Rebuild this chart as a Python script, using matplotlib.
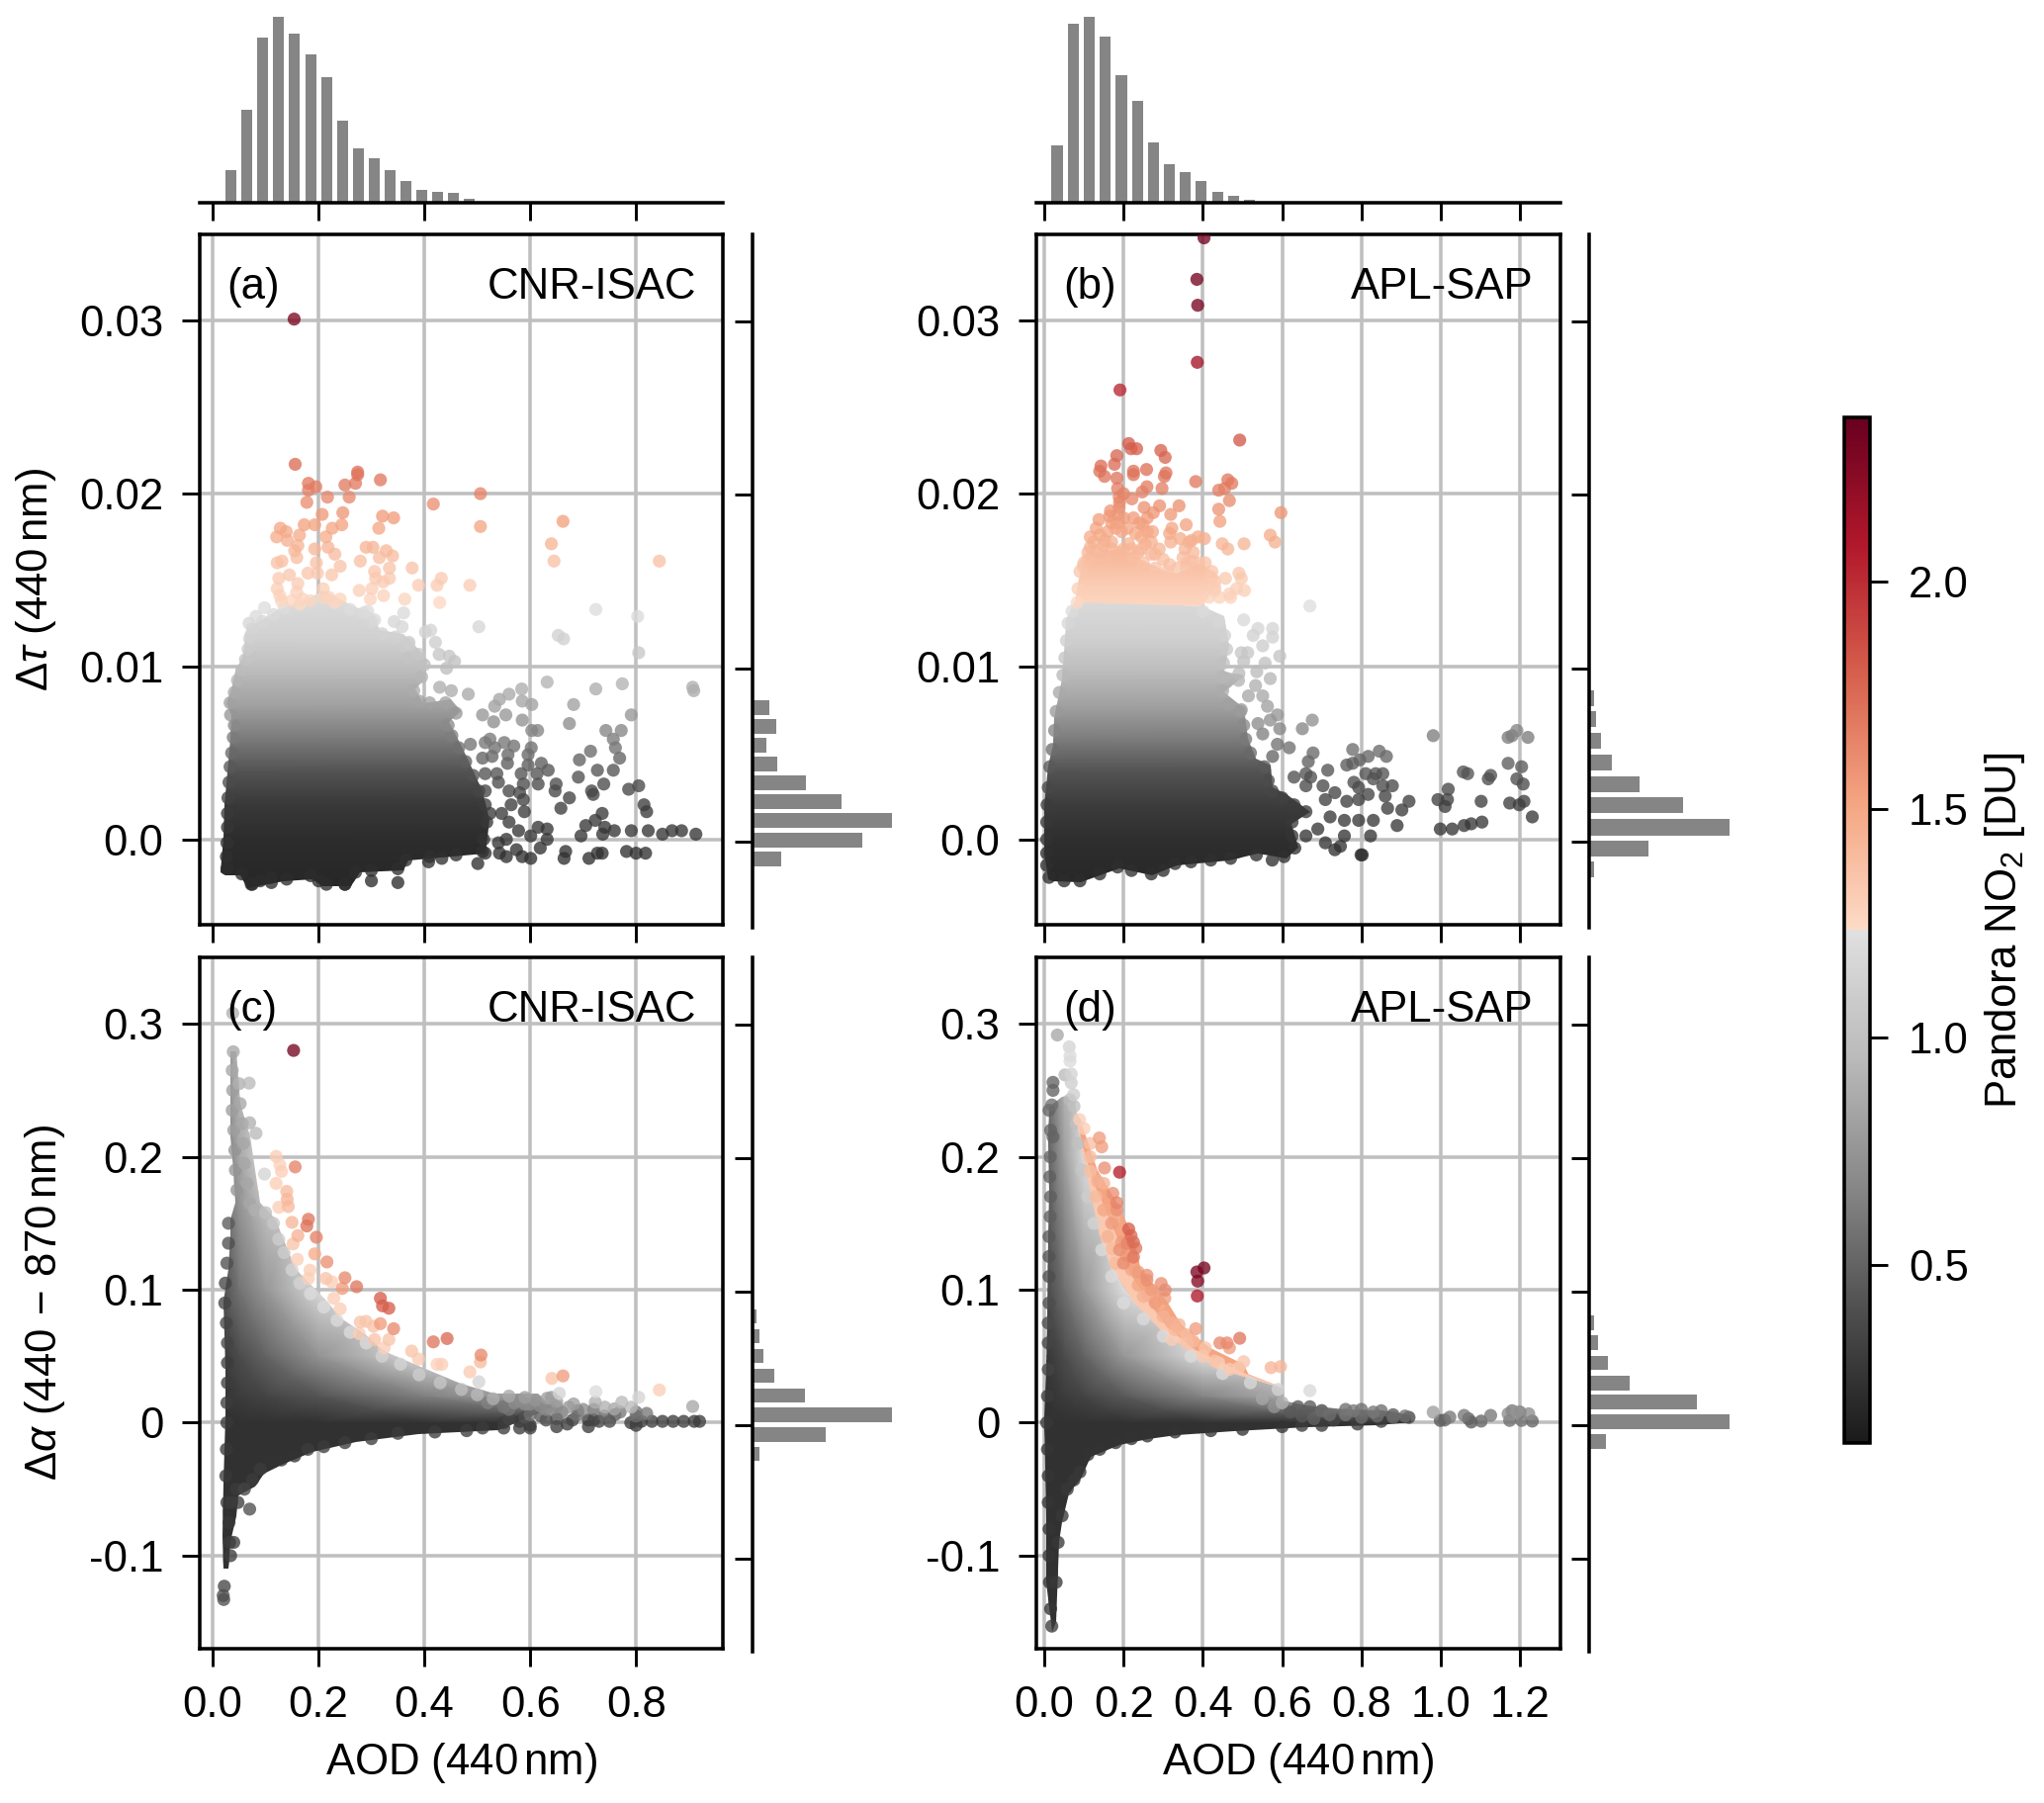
import numpy as np
import matplotlib
matplotlib.use('Agg')
import matplotlib.pyplot as plt
from matplotlib.colors import LinearSegmentedColormap, Normalize
from matplotlib.cm import ScalarMappable
from matplotlib.patches import Polygon

FS = 10.5
plt.rcParams['font.family'] = ['Liberation Sans', 'DejaVu Sans']
plt.rcParams['mathtext.fontset'] = 'custom'
plt.rcParams['mathtext.rm'] = 'Liberation Sans'
plt.rcParams['mathtext.it'] = 'Liberation Sans:italic'
plt.rcParams['mathtext.bf'] = 'Liberation Sans:bold'
plt.rcParams['font.size'] = FS

# ---------- histograms (relative bar lengths) ----------
top_a_aod = [.035,.065,.095,.125,.155,.185,.215,.245,.275,.305,.335,.365,.395,.425,.455,.485]
top_a_n = [99,283,501,563,512,449,380,248,165,134,99,65,40,34,30,13]
top_b_aod = [.032,.073,.113,.154,.194,.235,.275,.315,.356,.396,.437,.477,.517]
top_b_n = [175,543,563,505,387,308,183,117,93,65,34,20,10]
right_a_y = [.00775,.00666,.00559,.00448,.0034,.00233,.00122,.00011,-.00097]
right_a_n = [36,50,29,52,112,186,291,229,60]
right_b_y = [.00828,.00708,.00584,.00456,.00332,.00212,.00084,-.00036,-.0016]
right_b_n = [11,14,24,48,105,196,293,124,11]
right_c_y = [.0812,.0665,.0516,.0365,.0218,.0074,-.0074,-.0216]
right_c_n = [9,15,23,46,110,291,152,15]
right_d_y = [.0762,.0616,.0464,.0313,.0169,.0022,-.0127]
right_d_n = [11,19,39,84,224,293,36]

# ---------- dense cloud outlines ----------
a_body_x = [.015,.021,.023,.028,.033,.036,.027,.036,.043,.057,.062,.066,.093,.125,.179,.207,.234,.27,.302,.315,.361,.383,.406,.401,.383,.397,.451,.469,.447,.469,.487,.51,.524,.515,.37,.361,.279,.261,.207,.189,.134,.066,.052,.025]
a_body_y = [-.0019,.0001,.002,.0039,.0058,.0072,.0079,.0087,.0097,.0106,.0116,.0123,.0127,.0133,.0139,.0144,.014,.0134,.0131,.0121,.0119,.0112,.0104,.0093,.0087,.0079,.0081,.0074,.0068,.0055,.0043,.0028,.0011,-.0008,-.0012,-.0018,-.0019,-.0027,-.0027,-.0023,-.0024,-.0028,-.0021,-.0021]
b_body_x = [.01,.001,.001,.01,.022,.025,.044,.052,.056,.077,.4,.455,.467,.455,.503,.455,.503,.515,.533,.57,.576,.612,.672,.624,.642,.612,.539,.467,.334,.273,.189,.092,.019]
b_body_y = [-.0023,-.0008,.002,.0043,.0055,.007,.0093,.0116,.0127,.0138,.0135,.0129,.0112,.0097,.0095,.0085,.0076,.0058,.0047,.0043,.003,.0026,.0016,.0009,-.0005,-.0011,-.0008,-.0012,-.0015,-.0021,-.0017,-.0025,-.0024]
b_peach_x = [.077,.086,.098,.13,.19,.297,.334,.394,.442,.43,.4]
b_peach_y = [.0137,.0148,.016,.0166,.0168,.0156,.0154,.016,.0152,.0145,.0135]
c_body_x = [.021,.018,.021,.024,.024,.021,.03,.034,.033,.043,.039,.034,.034,.033,.034,.045,.053,.071,.08,.089,.12,.13,.157,.216,.243,.288,.324,.397,.469,.533,.614,.64,.54,.388,.27,.189,.13,.098,.08,.048,.044,.034,.03]
c_body_y = [-.11,-.085,-.045,.004,.0414,.091,.116,.1407,.153,.1655,.19,.215,.24,.27,.279,.279,.24,.215,.19,.1655,.153,.1407,.116,.091,.0787,.0663,.0539,.0414,.029,.0216,.0216,.0117,-.0057,-.0082,-.0144,-.0218,-.0318,-.038,-.048,-.055,-.07,-.09,-.11]
d_body_x = [.019,.005,.005,.001,.005,.007,.01,.013,.01,.013,.045,.062,.074,.08,.092,.104,.122,.14,.17,.225,.297,.37,.455,.606,.6,.66,.757,.854,.926,.926,.84,.66,.479,.334,.261,.189,.116,.092,.062,.046,.037,.031]
d_body_y = [-.157,-.12,-.07,.004,.041,.079,.14,.175,.21,.2375,.245,.246,.2467,.236,.21,.19,.1655,.1407,.116,.091,.0688,.0539,.039,.0253,.0166,.0129,.0104,.0092,.0055,.0005,-.002,-.0032,-.006,-.009,-.012,-.017,-.026,-.042,-.053,-.075,-.09,-.15]
d_peach_x = [.08,.1,.134,.183,.225,.243,.31,.346,.418,.503,.515,.6,.455,.37,.297,.225,.17,.14,.122,.104,.092]
d_peach_y = [.235,.22,.19,.1655,.14,.116,.091,.0737,.0563,.0439,.0365,.0266,.039,.0539,.0688,.091,.116,.1407,.1655,.19,.21]
d_peach_in_x = [.08,.095,.125,.155,.19,.215,.265,.31,.38,.47,.515,.6,.455,.37,.297,.225,.17,.14,.122,.104,.092]
d_peach_in_y = [.235,.21,.18,.16,.135,.113,.09,.072,.055,.042,.036,.0266,.039,.0539,.0688,.091,.116,.1407,.1655,.19,.21]

# ---------- NO2 ----------
row_x = [-.03, 1.4]
a_row_y = [-.003,0,.002,.004,.0058,.0077,.0097,.0116,.0145]
a_row_no2 = [.18,.21,.28,.43,.61,.81,.96,1.12,1.22]
b_row_no2 = [.18,.22,.30,.43,.62,.81,.97,1.11,1.22]
b_peach_row_y = [.0135,.015,.017,.019]
b_peach_row_no2 = [1.26,1.33,1.45,1.58]
grid_x = [0,.05,.1,.2,.4,.7,1.3]
grid_y = [-.17,0,.02,.05,.1,.2,.3]
c_grid_no2 = [[.24,.24,.24,.24,.24,.24,.24],
              [.24,.24,.24,.24,.24,.24,.24],
              [.24,.30,.34,.43,.64,.95,1.2],
              [.24,.38,.50,.74,1.2,1.2,1.2],
              [.30,.58,.76,1.18,1.2,1.2,1.2],
              [.40,.85,1.18,1.2,1.2,1.2,1.2],
              [.45,1.0,1.2,1.2,1.2,1.2,1.2]]
d_grid_no2 = [[.24,.24,.24,.24,.24,.24,.24],
              [.24,.24,.24,.24,.24,.24,.24],
              [.24,.30,.34,.45,.66,.98,1.2],
              [.26,.38,.50,.76,1.2,1.2,1.2],
              [.34,.55,.76,1.2,1.2,1.2,1.2],
              [.42,.80,1.2,1.2,1.2,1.2,1.2],
              [.45,1.0,1.2,1.2,1.2,1.2,1.2]]
d_peach_outer_no2 = 1.52
d_peach_inner_no2 = 1.33

# colour of panels (a),(b) follows delta tau: table
band_dtau = [-.003,0,.002,.004,.0058,.0077,.0097,.0116,.0135,.01375,.016,.018,.0205,.0225,.026,.03,.035]
band_no2 = [.2,.25,.3,.43,.61,.81,.96,1.12,1.22,1.26,1.36,1.5,1.68,1.78,2.02,2.28,2.32]

# ---------- individual points ----------
a_aod = [.154,.156,.274,.181,.195,.181,.217,.178,.25,.27,.274,.317,.258,.246,.207,.321,.342,.314,.244,.226,.193,.173,.164,.214,.128,.139,.121,.141,.155,.161,.193,.218,.231,.29,.303,.328,.34,.315,.279,.241,.196,.122,.131,.159,.334,.377,.306,.308,.334,.322,.225,.18,.198,.145,.125,.161,.122,.209,.277,.301,.389,.424,.432,.486,.323,.298,.363,.17,.127,.159,.64,.645,.662,.506,.417,.506,.844,
         .149,.13,.098,.082,.069,.072,.072,.071,.22,.241,.293,.306,.361,.343,.358,.429,.503,.724,.803,.653,.663,.805,.412,.402,.421,.371,.36,.428,.447,.457,.442,.368,
         .907,.909,.632,.724,.774,.584,.682,.791,.483,.451,.429,.56,.542,.533,.603,.585,.554,.531,.51,.585,.674,.603,.614,.743,.772,.757,.761,.714,.769,.693,.727,.757,.691,.739,.649,.647,.716,.719,.674,.786,.805,.815,.82,.658,.736,.705,.723,.741,.759,.791,.823,.85,.868,.886,.913,.696,.737,
         .632,.615,.632,.578,.601,.555,.56,.54,.574,.601,.585,.555,.542,.667,.664,.711,.727,.736,.782,.8,.818,.501,.433,.408,.515,.619,
         .524,.551,.533,.569,.596,.602,.558,.528,.51,.487,.515,.621,.634,.613,.596,.557,.583,.515,.537,.615,.587,.54,.56,.515,.58,.587,.564,.589,.546,.524,.073,.09,.111,.2,.25,.3,.35]
a_dtau = [.0301,.0217,.02125,.0206,.0204,.0202,.0198,.0195,.0205,.0206,.0211,.0208,.0198,.0189,.0188,.0187,.0186,.018,.0182,.018,.0182,.0182,.0176,.0175,.018,.0178,.0175,.0173,.0167,.017,.0168,.0169,.0165,.0169,.0169,.0167,.0164,.0163,.0161,.0158,.016,.016,.0161,.0163,.0157,.0157,.0155,.0151,.0151,.0149,.0153,.0154,.0154,.0153,.0151,.0148,.0145,.0145,.0144,.0145,.0147,.0147,.0151,.0147,.0141,.0139,.0139,.0139,.0141,.0143,.0171,.0161,.0184,.02,.0194,.0181,.0161,
          .0138,.0138,.0134,.0129,.0125,.0118,.0112,.0106,.014,.0139,.0132,.0127,.0131,.0126,.0123,.0137,.0123,.0133,.0129,.0118,.0116,.0108,.0121,.012,.0114,.0114,.0112,.0107,.0106,.0103,.0099,.0105,
          .0088,.0086,.0091,.0087,.009,.0087,.0078,.0072,.0084,.0086,.0088,.0084,.0081,.0077,.0078,.008,.0072,.0068,.0072,.0069,.0067,.0063,.0063,.0063,.0063,.0058,.0053,.0051,.0047,.0046,.004,.004,.0036,.0032,.0032,.0028,.0028,.0026,.0024,.0029,.0031,.002,.0016,.0018,.0015,.0008,.0011,.0007,.0005,.0005,.0005,.0003,.0005,.0005,.0003,.0002,.0003,
          0,.0007,.0006,.0005,.0002,0,.001,-.0002,-.0006,-.0011,-.001,-.001,-.0008,-.0007,-.0011,-.0011,-.0008,-.0008,-.0007,-.0008,-.0008,-.0014,-.0011,-.0013,-.0008,-.0005,
          .0058,.0056,.0053,.0054,.0049,.0053,.0049,.0048,.0047,.0055,.0056,.0044,.004,.0038,.0043,.0044,.0038,.0038,.0038,.0032,.0032,.0033,.0028,.0028,.0027,.0023,.002,.0016,.0015,.0015,-.0026,-.0024,-.0025,-.0024,-.0026,-.0024,-.0025]
a_edge_aod = [.027,.026,.027,.028,.028,.029,.031,.033,.036,.039,.041,.034,.033,.041,.047,.055,.062,.067,.07,.075,.095,.115,.135,.165,.185,.21,.23,.26,.285,.3,.32,.345,.37,.39,.4,.395,.38,.39,.41,.44,.46,.445,.452,.465,.478,.492,.503,.515,.518,.512,.51,.46,.41,.365,.35,.3,.27,.25,.215,.185,.14,.11,.075,.055]
a_edge_dtau = [-.0017,-.001,-.0002,.0007,.0015,.0024,.0033,.0042,.005,.0059,.0066,.0072,.0079,.0085,.0092,.0098,.0104,.011,.0116,.0122,.0126,.013,.0134,.0136,.0138,.014,.0137,.0133,.0131,.0126,.0119,.0117,.0113,.0107,.0101,.0094,.0086,.008,.0079,.0079,.0073,.0066,.006,.0053,.0045,.0037,.0028,.002,.001,0,-.0007,-.0009,-.001,-.0012,-.0017,-.0018,-.0019,-.0026,-.0026,-.0021,-.0023,-.0022,-.0026,-.002]

b_aod = [.403,.385,.387,.386,.191,.493,.213,.219,.233,.294,.305,.183,.143,.177,.225,.258,.307,.14,
         .152,.183,.225,.303,.297,.382,.463,.473,.44,.455,.259,.247,.189,.221,.467,.34,.291,.252,.44,.167,.189,.597,.319,.443,.225,.138,.183,.358,.249,.131,.322,.273,.316,.57,.582,.388,.404,.343,.116,.449,.504,.463,.319,.372,.116,.152,.213,.255,.279,.11,.152,.189,.237,.316,.376,.372,.406,.098,.491,.423,.358,.457,.497,.43,.485,.505,.43,.467,.67,.442,.47,
         .503,.539,.576,.527,.576,.551,.594,.497,.513,.557,.503,.536,.57,.491,.533,.551,.515,.563,.588,.497,.57,.676,.651,.539,.594,.551,.618,.588,.678,.666,.576,.981,1.17,1.192,1.18,1.22,.778,.845,.863,.817,.796,.763,.778,1.17,1.204,.715,.66,1.057,1.068,1.126,1.12,1.192,1.208,.63,.672,.811,.836,.854,.83,.781,.878,.854,.793,.703,.66,.733,.817,.86,1.019,.993,1.017,1.011,1.102,1.174,1.198,1.21,.92,.902,.866,.793,.763,.709,1.231,1.104,1.077,1.059,1.029,.999,.89,.83,.793,.757,.721,.69,.799,.802,.757,.823,.66,.709,.733,.747]
b_dtau = [.0348,.0324,.0309,.0276,.026,.0231,.0229,.0226,.0226,.0225,.0221,.0222,.0216,.0217,.0213,.0214,.0212,.0213,
          .021,.0209,.0211,.021,.0203,.0207,.0208,.0206,.0202,.0203,.0204,.0201,.0198,.0197,.0196,.0193,.0193,.0192,.0191,.019,.0192,.0189,.0188,.0184,.0186,.0185,.0183,.0182,.0182,.018,.018,.0178,.0177,.0176,.0172,.0175,.0174,.0174,.0175,.0171,.0171,.0168,.0172,.0173,.0169,.0173,.0171,.0171,.0165,.0162,.0164,.0166,.0166,.0159,.0166,.0161,.016,.0158,.0154,.0155,.0158,.0151,.0151,.0149,.0145,.0144,.0144,.0142,.0135,.014,.014,
          .0127,.0122,.0122,.0118,.0117,.0112,.0106,.0108,.0108,.0102,.0103,.0097,.0093,.0096,.0089,.0083,.0083,.0077,.0072,.0075,.0069,.0069,.0064,.0067,.0064,.0061,.0053,.0055,.005,.0045,.0048,.006,.0059,.0063,.006,.0059,.0052,.0051,.0048,.0048,.0046,.0043,.0044,.0044,.0042,.004,.0038,.0039,.0038,.0037,.0035,.0035,.0032,.0036,.0036,.0038,.0038,.0038,.0035,.0033,.0031,.0031,.003,.0031,.0031,.0027,.0026,.0025,.0029,.0023,.0023,.0019,.0022,.0021,.002,.0022,.0022,.0017,.0018,.0023,.0022,.0023,.0013,.001,.0009,.0008,.0006,.0006,.0008,.0011,.0011,.0011,.0013,.0006,-.0009,-.0009,.0002,.0002,.0002,-.0002,-.0006,-.0004]
b_edge_aod = [.012,.006,.006,.006,.006,.007,.01,.014,.02,.026,.03,.038,.047,.052,.056,.06,.07,.083,.4,.44,.455,.46,.452,.45,.49,.45,.465,.495,.503,.508,.52,.555,.565,.575,.6,.63,.66,.625,.625,.632,.605,.575,.535,.47,.42,.37,.33,.3,.27,.22,.185,.14,.09,.05,
              .085,.09,.1,.12,.145,.17,.2,.225,.25,.28,.31,.335,.36,.39,.42,.43,.415,
              .11,.125,.14,.16,.17,.195,.21,.23,.245,.26,.27,.29,.165,.185,.2,.19,.2,.185,.26,.275,.24,.17,.15,.18,.22,.245,.27,.13,.355,.365,.35,.3]
b_edge_dtau = [-.0022,-.0015,-.0008,0,.001,.002,.003,.0042,.0052,.0063,.0074,.0085,.0095,.0105,.0115,.0125,.0132,.0137,.0132,.0126,.0118,.011,.0102,.0094,.0092,.0086,.0078,.0074,.0066,.0058,.005,.0042,.0034,.0028,.0024,.002,.0016,.001,.0002,-.0005,-.001,-.0012,-.0009,-.0011,-.0012,-.0013,-.0014,-.0018,-.002,-.0018,-.0016,-.002,-.0024,-.0024,
               .0145,.0155,.016,.0163,.0166,.0168,.0168,.0163,.016,.0157,.0155,.0157,.016,.016,.0152,.0146,.014,
               .0166,.0172,.0176,.0178,.0183,.0178,.018,.0177,.0175,.0178,.0172,.0168,.0187,.0188,.0186,.0195,.02,.0203,.0186,.0189,.0183,.0172,.017,.018,.0168,.0168,.0165,.0167,.0168,.0172,.0163,.0162]

c_aod = [.153,.038,.069,.07,.082,.12,.127,.13,.12,.156,.098,.14,.141,.125,.143,.15,.181,.178,.161,.196,.152,.16,.193,.216,.184,.181,.214,.225,.25,.272,.245,.229,.241,.317,.321,.333,.279,.29,.317,.304,.342,.277,.306,.333,.324,.417,.443,.376,.389,.507,.506,.424,.433,.486,.503,.641,.662,.844,.724,.655,.632,.805,.907,.773,.791,.723,.682,.673,.741,.759,
         .55,.58,.6,.63,.67,.71,.73,.75,.79,.81,.83,.85,.87,.89,.91,.92,.56,.6,.65,.52,.58,.64,.69,.72,.76,.8,.02,.022,.021,.07,.048,.034,.04]
c_dalpha = [.28,.308,.2554,.2256,.2177,.2003,.194,.189,.18,.1924,.187,.174,.168,.162,.1626,.1507,.153,.148,.1407,.1395,.1345,.1229,.127,.1209,.1147,.1085,.1085,.106,.109,.1023,.101,.0936,.0856,.0936,.0879,.0861,.0757,.0762,.0745,.0725,.0707,.067,.0625,.0625,.0563,.0608,.0633,.0539,.0479,.0509,.0457,.0439,.0439,.0382,.0308,.0333,.0352,.0246,.0233,.0221,.0184,.0191,.0122,.0154,.0117,.0154,.0141,.0117,.0117,.0104,
            0,.001,-.002,.002,-.001,.002,.001,.001,0,.001,.001,.001,.001,.001,.001,.001,.01,.014,.016,.015,.017,.019,.009,.01,.006,.008,-.13,-.123,-.133,-.065,-.06,-.1,-.09]
c_no2 = [2.3,.9,.95,.9,.95,1.3,1.28,1.3,1.3,1.65,1.15,1.4,1.42,1.3,1.4,1.42,1.7,1.72,1.45,1.66,1.35,1.3,1.48,1.6,1.3,1.3,1.35,1.3,1.62,1.7,1.55,1.3,1.3,1.8,1.8,1.8,1.35,1.35,1.55,1.35,1.62,1.3,1.35,1.35,1.3,1.7,1.75,1.35,1.32,1.62,1.4,1.28,1.3,1.32,1.15,1.35,1.55,1.3,1.2,1.15,.8,1.15,.85,.95,.95,.9,.8,.75,.9,.85,
         .3,.3,.28,.35,.3,.3,.35,.35,.3,.3,.3,.3,.3,.3,.3,.3,.6,.7,.8,.65,.7,.75,.5,.55,.45,.55,.4,.35,.4,.4,.3,.3,.3]
c_edge_aod = [.039,.037,.038,.037,.04,.042,.043,.046,.05,.052,.056,.058,.06,.065,.07,.08,.1,.115,.125,.135,.15,.165,.185,.21,.235,.26,.29,.32,.355,.39,.43,.47,.5,.53,.56,.59,.61,.63,.6,.65,
              .03,.03,.027,.024,.023,.026,.028,.028,.028,.027,.027,.026,.025,.027,.031,.032,.036,
              .045,.06,.075,.09,.11,.13,.155,.18,.21,.25,.3,.35,.42,.48,.51,
              .55,.57,.59,.62,.64,.66,.69,.7,.74,.77,.8,.82,.56,.59,.62,.65,.68,.72,.55,.58,.6,.65,.71,.8]
c_edge_dalpha = [.279,.265,.25,.235,.22,.205,.19,.175,.255,.24,.225,.21,.195,.18,.165,.16,.158,.15,.138,.128,.115,.105,.097,.087,.077,.068,.06,.05,.044,.036,.03,.025,.021,.018,.02,.019,.017,.01,.006,.012,
                 .15,.135,.12,.105,.09,.075,.06,.045,.03,.015,0,-.02,-.04,-.06,-.075,-.09,-.06,
                 -.05,-.05,-.043,-.035,-.03,-.028,-.025,-.02,-.018,-.015,-.012,-.008,-.007,-.006,-.004,
                 .012,.015,.014,.012,.01,.008,.006,.01,.005,.008,.005,.007,.003,.004,.005,.003,.002,.002,-.004,-.004,-.004,-.003,-.003,-.002]
c_edge_no2 = [.85,.85,.8,.8,.8,.75,.75,.75,.9,.85,.85,.85,.85,.85,.85,.9,1.0,1.05,1.1,1.1,1.15,1.15,1.2,1.2,1.2,1.2,1.2,1.15,1.15,1.1,1.05,1.0,.95,.9,.85,.8,.75,.7,.55,.7,
              .45,.4,.4,.35,.35,.35,.35,.3,.3,.3,.28,.28,.28,.28,.28,.3,.3,
              .3,.35,.3,.3,.25,.25,.25,.3,.3,.3,.3,.3,.3,.3,.3,
              .6,.7,.7,.7,.65,.6,.55,.7,.5,.6,.55,.6,.35,.4,.45,.4,.35,.35,.3,.3,.3,.3,.3,.3]

d_aod = [.033,.063,.065,.065,.052,.068,.068,.074,.022,.022,.019,.022,.089,.1,.139,.145,.116,.116,.152,.19,.116,.134,.173,.183,.183,.18,.213,.219,.225,.231,.225,.195,.177,.195,.171,.207,.237,.259,.259,.295,.305,.304,.291,.261,.237,.322,.34,.382,.358,.322,.376,.443,.461,.467,.493,.406,.503,.491,.467,.43,.572,.596,.403,.385,.387,.386,.67,
         .981,1.17,1.192,1.222,.999,1.023,1.059,1.077,1.102,1.126,1.174,1.204,1.231,.65,.68,.72,.76,.8,.84,.88,.91,.62,.7,.78,.83,1.01,1.07,1.18,1.2]
d_dalpha = [.2916,.2827,.276,.272,.2616,.2623,.2556,.2467,.256,.25,.239,.215,.228,.2214,.2142,.2075,.21,.2,.1916,.1884,.189,.1817,.1725,.1655,.16,.158,.1457,.1407,.1358,.1313,.1246,.1457,.1531,.1358,.1308,.1258,.1134,.1109,.1072,.1047,.0998,.0936,.0898,.096,.1035,.075,.0737,.0707,.0663,.0625,.0613,.06,.06,.0563,.0635,.0563,.0459,.0414,.0402,.0464,.0414,.0422,.1164,.1134,.1065,.0953,.0241,
            .0079,.0067,.0079,.0067,.0017,.0042,.0055,.0005,.0012,.0055,.0017,.0017,.0012,.005,.003,.006,.006,.004,.005,.004,.005,.008,.009,.009,.008,.002,.003,.009,.008]
d_no2 = [.85,1.15,1.2,1.2,.95,1.15,1.1,1.1,.5,.5,.55,.5,1.3,1.3,1.55,1.55,1.38,1.38,1.6,2.05,1.38,1.45,1.6,1.65,1.6,1.45,1.8,1.75,1.75,1.7,1.7,1.5,1.45,1.55,1.4,1.55,1.55,1.6,1.6,1.6,1.62,1.55,1.45,1.45,1.5,1.45,1.45,1.55,1.38,1.3,1.4,1.62,1.62,1.55,1.7,1.35,1.35,1.32,1.32,1.35,1.42,1.42,2.3,2.28,2.25,2.08,1.18,
         .8,.7,.75,.7,.45,.6,.6,.45,.5,.6,.55,.55,.5,.45,.5,.55,.6,.55,.55,.55,.55,.45,.55,.6,.6,.5,.5,.6,.6]
d_edge_aod = [.012,.016,.015,.014,.016,.015,.012,.012,.012,.012,.01,.01,.01,.008,.006,.008,.01,.01,.012,.012,.013,.016,.019,
              .03,.035,.045,.058,.075,.09,.11,.14,.18,.22,.26,.33,.42,.5,.6,
              .64,.67,.7,.73,.76,.8,.85,.88,.92,.65,.7,.79,.85,
              .065,.075,.08,.085,.095,.11,.125,.145,.17,.2,.25,.3,.37,.45,.52,.59,.6,.58,.55,
              .15,.17,.19,.2,.21,.22,.25,.28,.15,.13,.16,.18,.27,.3,.33,.36,.4,.44]
d_edge_dalpha = [.235,.22,.2,.185,.17,.155,.14,.125,.11,.09,.075,.06,.04,.02,0,-.02,-.04,-.06,-.08,-.1,-.12,-.14,-.153,
                 -.12,-.09,-.07,-.05,-.043,-.037,-.024,-.02,-.015,-.012,-.01,-.007,-.006,-.005,-.003,
                 .012,.012,.009,.002,.01,.01,.009,.006,.004,-.002,-.002,-.001,.001,
                 .243,.238,.225,.21,.19,.17,.15,.13,.11,.09,.078,.065,.05,.037,.03,.025,.015,.012,.018,
                 .16,.15,.13,.12,.135,.115,.095,.09,.18,.17,.14,.12,.1,.08,.07,.06,.05,.045]
d_edge_no2 = [.5,.5,.5,.48,.48,.48,.45,.42,.4,.4,.38,.35,.35,.3,.28,.26,.26,.26,.26,.26,.26,.26,.3,
              .28,.28,.28,.28,.28,.28,.25,.25,.25,.25,.25,.25,.25,.25,.25,
              .45,.45,.4,.35,.55,.55,.55,.45,.35,.3,.3,.3,.3,
              .95,1.0,1.0,1.0,1.05,1.1,1.15,1.2,1.2,1.2,1.2,1.2,1.2,1.2,1.18,1.15,.9,.75,.85,
              1.5,1.55,1.6,1.62,1.65,1.5,1.45,1.55,1.45,1.4,1.45,1.4,1.55,1.45,1.4,1.35,1.32,1.3]

# ---------- colour scale ----------
cmap = LinearSegmentedColormap.from_list('rdgy_split', [
    (0.0, '#1a1a1a'), (.125, '#4d4d4d'), (.25, '#878787'), (.375, '#bababa'), (.5, '#e0e0e0'),
    (.5, '#fddbc7'), (.625, '#f4a582'), (.75, '#d6604d'), (.875, '#b2182b'), (1.0, '#67001f')], N=512)
norm = Normalize(0.11, 2.36)

W, H = 2067, 1823
fig = plt.figure(figsize=(W / 300, H / 300), dpi=300)
LW = 0.85
TLW = 0.7
TL = 4.3
GREY = '#bfbfbf'
BAR = '#858585'


def add_axes(l, r, t, b):
    return fig.add_axes([l / W, 1 - b / H, (r - l) / W, (b - t) / H])


def body(ax, gx, gy, gz, px, py):
    m = ax.pcolormesh(gx, gy, gz, shading='gouraud', cmap=cmap, norm=norm, zorder=2)
    poly = Polygon(np.column_stack([px, py]), closed=True, transform=ax.transData, fc='none', ec='none')
    ax.add_patch(poly)
    m.set_clip_path(poly)


def dots(ax, x, y, no2):
    x, y, no2 = map(np.asarray, (x, y, no2))
    order = np.argsort(no2)
    ax.scatter(x[order], y[order], c=no2[order], cmap=cmap, norm=norm, s=10, alpha=.78,
               linewidths=0, zorder=3, clip_on=True)


def panel(l, r, t, b, xlim, xticks, ylim, yticks, ylabels, tag, name, xvis, ylab, ylab_x):
    ax = add_axes(l, r, t, b)
    ax.set_xlim(xlim); ax.set_ylim(ylim)
    ax.set_xticks(xticks); ax.set_yticks(yticks)
    ax.set_yticklabels(ylabels)
    ax.grid(True, color=GREY, lw=LW)
    ax.set_axisbelow(True)
    for s in ax.spines.values():
        s.set_linewidth(LW)
    ax.tick_params(length=TL, width=TLW, pad=4.5, labelsize=FS)
    if xvis:
        ax.set_xticklabels([f'{v:.1f}' for v in xticks])
        ax.set_xlabel('AOD (440$\\,$nm)', fontsize=FS, va='center')
        ax.xaxis.set_label_coords(.5, (b - 1782) / (b - t))
    else:
        ax.set_xticklabels([])
    if ylab:
        ax.set_ylabel(ylab, fontsize=FS, va='center')
        ax.yaxis.set_label_coords(ylab_x, .5)
    ax.text(.051, .923, tag, transform=ax.transAxes, ha='left', va='center', fontsize=FS, zorder=5)
    ax.text(.949, .923, name, transform=ax.transAxes, ha='right', va='center', fontsize=FS, zorder=5)
    return ax


def top_hist(l, r, xlim, xticks, x, n, width):
    ax = add_axes(l, r, 17, 205)
    ax.bar(x, n, width=width, color=BAR, lw=0)
    ax.set_xlim(xlim); ax.set_ylim(0, 564)
    ax.set_xticks(xticks); ax.set_xticklabels([]); ax.set_yticks([])
    for k in ('top', 'left', 'right'):
        ax.spines[k].set_visible(False)
    ax.spines['bottom'].set_linewidth(LW)
    ax.tick_params(length=TL, width=TLW)
    ax.patch.set_alpha(0)


def right_hist(l, t, b, ylim, yticks, y, n, height):
    ax = add_axes(l, l + 160, t, b)
    ax.barh(y, n, height=height, color=BAR, lw=0)
    ax.set_xlim(0, 330); ax.set_ylim(ylim)
    ax.set_yticks(yticks); ax.set_yticklabels([]); ax.set_xticks([])
    for k in ('top', 'bottom', 'right'):
        ax.spines[k].set_visible(False)
    ax.spines['left'].set_linewidth(LW)
    ax.tick_params(length=TL, width=TLW)
    ax.patch.set_alpha(0)


X_A = [0, .2, .4, .6, .8]
X_B = [0, .2, .4, .6, .8, 1.0, 1.2]
XL_A = (-.0243, .964)
XL_B = (-.02, 1.302)
YT_T = [0, .01, .02, .03]
YL_T = ['0.0', '0.01', '0.02', '0.03']
YT_A = [-.1, 0, .1, .2, .3]
YL_A = ['-0.1', '0', '0.1', '0.2', '0.3']
YL_TOP = (-.00494, .035)
YL_BOT = (-.17, .35)
TLAB = '$\\Delta\\tau$ (440$\\,$nm)'
ALAB = '$\\Delta\\alpha$ (440$\\,-\\,$870$\\,$nm)'

# panel a
ax = panel(202, 731, 237, 935, XL_A, X_A, YL_TOP, YT_T, YL_T, '(a)', 'CNR-ISAC', False, TLAB, -.312)
body(ax, row_x, a_row_y, np.column_stack([a_row_no2, a_row_no2]), a_body_x, a_body_y)
dots(ax, a_aod + a_edge_aod, a_dtau + a_edge_dtau, np.interp(a_dtau + a_edge_dtau, band_dtau, band_no2))
# panel b
ax = panel(1048, 1578, 237, 935, XL_B, X_B, YL_TOP, YT_T, YL_T, '(b)', 'APL-SAP', False, None, 0)
body(ax, row_x, a_row_y, np.column_stack([b_row_no2, b_row_no2]), b_body_x, b_body_y)
body(ax, row_x, b_peach_row_y, np.column_stack([b_peach_row_no2, b_peach_row_no2]), b_peach_x, b_peach_y)
dots(ax, b_aod + b_edge_aod, b_dtau + b_edge_dtau, np.interp(b_dtau + b_edge_dtau, band_dtau, band_no2))
# panel c
ax = panel(202, 731, 968, 1667, XL_A, X_A, YL_BOT, YT_A, YL_A, '(c)', 'CNR-ISAC', True, ALAB, -.295)
body(ax, grid_x, grid_y, c_grid_no2, c_body_x, c_body_y)
dots(ax, c_aod + c_edge_aod, c_dalpha + c_edge_dalpha, c_no2 + c_edge_no2)
# panel d
ax = panel(1048, 1578, 968, 1667, XL_B, X_B, YL_BOT, YT_A, YL_A, '(d)', 'APL-SAP', True, None, 0)
ax.fill(d_peach_x, d_peach_y, color=cmap(norm(d_peach_outer_no2)), lw=0, zorder=2)
ax.fill(d_peach_in_x, d_peach_in_y, color=cmap(norm(d_peach_inner_no2)), lw=0, zorder=2)
body(ax, grid_x, grid_y, d_grid_no2, d_body_x, d_body_y)
dots(ax, d_aod + d_edge_aod, d_dalpha + d_edge_dalpha, d_no2 + d_edge_no2)

top_hist(202, 731, XL_A, X_A, top_a_aod, top_a_n, .0205)
top_hist(1048, 1578, XL_B, X_B, top_b_aod, top_b_n, .0285)
right_hist(761, 237, 938, YL_TOP, YT_T, right_a_y, right_a_n, .00085)
right_hist(1607, 237, 938, YL_TOP, YT_T, right_b_y, right_b_n, .00092)
right_hist(761, 968, 1670, YL_BOT, YT_A, right_c_y, right_c_n, .0105)
right_hist(1607, 968, 1670, YL_BOT, YT_A, right_d_y, right_d_n, .0108)

# colour bar
cax = add_axes(1865, 1891, 422, 1459)
cb = fig.colorbar(ScalarMappable(norm=norm, cmap=cmap), cax=cax, ticks=[.5, 1.0, 1.5, 2.0])
cb.outline.set_linewidth(LW)
cb.ax.tick_params(length=TL, width=TLW, pad=5, labelsize=FS)
cb.ax.set_yticklabels(['0.5', '1.0', '1.5', '2.0'])
cb.set_label('Pandora NO$_2$ [DU]', fontsize=FS, va='center', rotation=90)
cb.ax.yaxis.set_label_coords((2028 - 1865) / 26, .5)

fig.savefig('out.png', dpi=300)
